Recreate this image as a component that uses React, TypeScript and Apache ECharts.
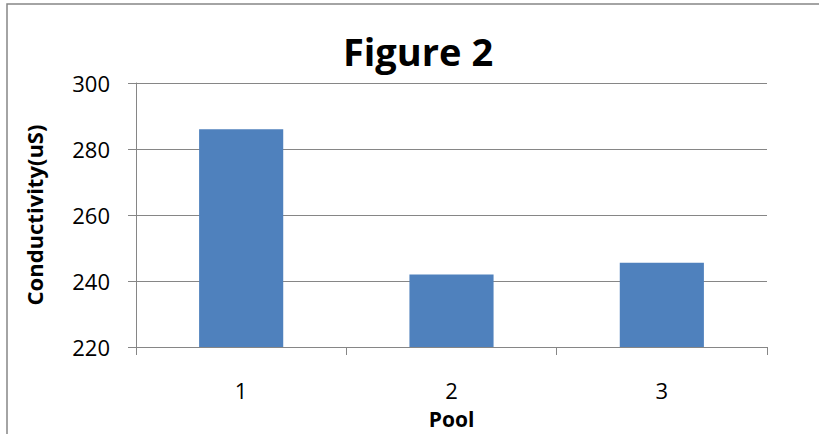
import React, { useEffect, useRef } from "react";
import * as echarts from "echarts";

// Pool conductivity readings
const pools = ["1", "2", "3"];
const conductivity = [286, 242, 245.5];
const yTicks = { min: 220, max: 300, step: 20 };

const FONT = "'Open Sans', 'Liberation Sans', sans-serif";
const GRAY = "#868686";

export default function App() {
  const ref = useRef<HTMLDivElement>(null);

  useEffect(() => {
    if (!ref.current) return;
    const chart = echarts.init(ref.current, undefined, { renderer: "svg" });
    chart.setOption({
      animation: false,
      backgroundColor: "#ffffff",
      textStyle: { fontFamily: FONT },
      title: {
        text: "Figure 2",
        left: 413,
        textAlign: "center",
        top: 27,
        textStyle: { fontFamily: FONT, fontSize: 38, fontWeight: "bold", color: "#000" },
      },
      graphic: [
        {
          type: "rect",
          shape: { x: 7, y: 4, width: 900, height: 500 },
          style: { fill: "none", stroke: GRAY, lineWidth: 1.5 },
          silent: true,
          z: 0,
        },
      ],
      grid: { left: 136, right: 52, top: 83, bottom: 86, containLabel: false },
      xAxis: {
        type: "category",
        data: pools,
        name: "Pool",
        nameLocation: "middle",
        nameGap: 61,
        nameTextStyle: { fontFamily: FONT, fontSize: 21, fontWeight: "bold", color: "#000" },
        axisLine: { lineStyle: { color: GRAY, width: 1 } },
        axisTick: { show: true, length: 8, lineStyle: { color: GRAY } },
        axisLabel: { fontFamily: FONT, fontSize: 22, color: "#000", margin: 32 },
      },
      yAxis: {
        type: "value",
        min: yTicks.min,
        max: yTicks.max,
        interval: yTicks.step,
        name: "Conductivity(uS)",
        nameLocation: "middle",
        nameGap: 91,
        nameRotate: 90,
        nameTextStyle: { fontFamily: FONT, fontSize: 22, fontWeight: "bold", color: "#000" },
        axisLine: { show: true, lineStyle: { color: GRAY, width: 1 } },
        axisTick: { show: true, length: 8, lineStyle: { color: GRAY } },
        axisLabel: { fontFamily: FONT, fontSize: 22, color: "#000", margin: 26 },
        splitLine: { show: true, lineStyle: { color: GRAY, width: 1 } },
      },
      series: [
        {
          type: "bar",
          data: conductivity,
          barWidth: "40%",
          itemStyle: { color: "#4F81BD" },
        },
      ],
    });
    return () => chart.dispose();
  }, []);

  return (
    <div
      ref={ref}
      style={{ position: "fixed", left: 0, top: 0, width: 819, height: 434 }}
    />
  );
}
